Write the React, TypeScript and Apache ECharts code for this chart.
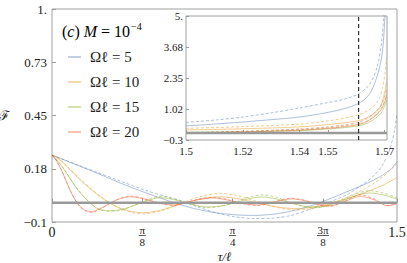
import React, { useEffect, useRef } from "react";
import * as echarts from "echarts";

// ---------- data ----------
const names = ["Ωℓ = 5", "Ωℓ = 10", "Ωℓ = 15", "Ωℓ = 20"];
const colors = [
  "rgba(94,129,181,0.5)",
  "rgba(225,156,36,0.5)",
  "rgba(143,176,50,0.5)",
  "rgba(235,98,53,0.5)",
];

const blueSolid: number[][] = [[0,0.246],[0.1,0.198],[0.2,0.15],[0.3,0.1],[0.4,0.054],[0.5,0.012],[0.6,-0.025],[0.7,-0.05],[0.8,-0.063],[0.88,-0.066],[0.96,-0.06],[1.04,-0.044],[1.12,-0.018],[1.2,0.016],[1.28,0.055],[1.36,0.095],[1.42,0.13],[1.47,0.17],[1.5,0.21]];
const blueDashed: number[][] = [[0,0.246],[0.1,0.2],[0.2,0.155],[0.3,0.11],[0.4,0.066],[0.5,0.03],[0.56,0.01],[0.64,-0.025],[0.72,-0.055],[0.8,-0.074],[0.88,-0.082],[0.96,-0.08],[1.04,-0.066],[1.12,-0.035],[1.2,0.0],[1.28,0.04],[1.34,0.085],[1.4,0.14],[1.44,0.2],[1.47,0.28],[1.49,0.38],[1.5,0.46]];
const orangeSolid: number[][] = [[0,0.246],[0.035,0.22],[0.07,0.18],[0.12,0.12],[0.16,0.078],[0.21,0.03],[0.26,-0.008],[0.3,-0.03],[0.35,-0.047],[0.4,-0.052],[0.45,-0.045],[0.5,-0.03],[0.55,-0.01],[0.6,0.006],[0.66,0.022],[0.73,0.03],[0.8,0.022],[0.87,0.004],[0.94,-0.014],[1.0,-0.026],[1.06,-0.031],[1.13,-0.024],[1.2,-0.006],[1.27,0.016],[1.35,0.048],[1.43,0.085],[1.5,0.13]];
const orangeDashed: number[][] = [[0,0.246],[0.035,0.222],[0.07,0.183],[0.12,0.125],[0.16,0.083],[0.21,0.033],[0.26,-0.008],[0.3,-0.032],[0.35,-0.052],[0.4,-0.058],[0.45,-0.05],[0.5,-0.032],[0.55,-0.008],[0.6,0.014],[0.66,0.036],[0.73,0.048],[0.8,0.038],[0.87,0.014],[0.94,-0.012],[1.0,-0.03],[1.06,-0.038],[1.13,-0.032],[1.2,-0.01],[1.27,0.022],[1.35,0.066],[1.43,0.125],[1.5,0.2]];
const greenSolid: number[][] = [[0,0.246],[0.035,0.2],[0.07,0.14],[0.1,0.085],[0.13,0.04],[0.16,0.005],[0.2,-0.032],[0.25,-0.042],[0.3,-0.036],[0.35,-0.018],[0.4,0.005],[0.47,0.026],[0.53,0.015],[0.6,-0.006],[0.67,-0.022],[0.73,-0.018],[0.8,0.0],[0.86,0.022],[0.92,0.029],[0.98,0.018],[1.05,-0.005],[1.12,-0.022],[1.18,-0.02],[1.25,0.004],[1.32,0.035],[1.38,0.05],[1.44,0.04],[1.5,0.018]];
const greenDashed: number[][] = [[0,0.246],[0.035,0.201],[0.07,0.142],[0.1,0.088],[0.13,0.043],[0.16,0.006],[0.2,-0.033],[0.25,-0.045],[0.3,-0.039],[0.35,-0.018],[0.4,0.008],[0.47,0.032],[0.53,0.02],[0.6,-0.006],[0.67,-0.026],[0.73,-0.02],[0.8,0.004],[0.86,0.03],[0.92,0.04],[0.98,0.026],[1.05,-0.004],[1.12,-0.026],[1.18,-0.022],[1.25,0.008],[1.32,0.045],[1.38,0.062],[1.44,0.05],[1.5,0.025]];
const redSolid: number[][] = [[0,0.246],[0.02,0.215],[0.04,0.17],[0.06,0.115],[0.08,0.06],[0.1,0.015],[0.12,-0.018],[0.145,-0.04],[0.175,-0.047],[0.21,-0.03],[0.25,-0.005],[0.29,0.018],[0.34,0.03],[0.39,0.022],[0.44,0.006],[0.49,-0.008],[0.53,-0.012],[0.58,0.0],[0.64,0.016],[0.7,0.024],[0.76,0.014],[0.81,0.0],[0.85,-0.008],[0.89,-0.012],[0.94,-0.004],[0.99,0.01],[1.04,0.019],[1.1,0.01],[1.16,-0.01],[1.21,-0.016],[1.27,0.005],[1.34,0.032],[1.4,0.015],[1.46,-0.016],[1.5,-0.006]];
const redDashed: number[][] = [[0,0.246],[0.02,0.216],[0.04,0.171],[0.06,0.117],[0.08,0.062],[0.1,0.016],[0.12,-0.019],[0.145,-0.042],[0.175,-0.05],[0.21,-0.033],[0.25,-0.006],[0.29,0.02],[0.34,0.034],[0.39,0.025],[0.44,0.006],[0.49,-0.01],[0.53,-0.015],[0.58,-0.001],[0.64,0.019],[0.7,0.028],[0.76,0.017],[0.81,0.0],[0.85,-0.01],[0.89,-0.015],[0.94,-0.006],[0.99,0.012],[1.04,0.023],[1.1,0.012],[1.16,-0.012],[1.21,-0.019],[1.27,0.006],[1.34,0.04],[1.4,0.02],[1.46,-0.016],[1.5,-0.002]];

const insetBlueSolid: number[][] = [[1.5,0.3],[1.51,0.38],[1.52,0.47],[1.53,0.57],[1.54,0.68],[1.55,0.88],[1.556,1.05],[1.5605,1.25],[1.5635,1.5],[1.5655,1.85],[1.5675,2.5],[1.569,3.3],[1.5698,4.4],[1.5702,5.3]];
const insetBlueDashed: number[][] = [[1.5,0.45],[1.51,0.55],[1.52,0.68],[1.53,0.86],[1.54,1.07],[1.55,1.3],[1.556,1.45],[1.5605,1.65],[1.5635,1.92],[1.5655,2.25],[1.5675,2.9],[1.569,4.0],[1.5697,5.2]];
const insetOrangeSolid: number[][] = [[1.5,0.13],[1.52,0.18],[1.54,0.26],[1.55,0.36],[1.556,0.44],[1.5605,0.52],[1.5635,0.64],[1.5658,0.8],[1.568,1.05],[1.569,1.3],[1.5701,1.8],[1.5706,2.2]];
const insetOrangeDashed: number[][] = [[1.5,0.2],[1.52,0.27],[1.54,0.38],[1.55,0.52],[1.556,0.64],[1.5605,0.77],[1.5635,0.92],[1.5658,1.11],[1.568,1.45],[1.569,1.84],[1.5701,2.56],[1.5706,3.2]];
const insetGreenSolid: number[][] = [[1.5,0.02],[1.52,0.05],[1.54,0.1],[1.55,0.17],[1.556,0.23],[1.5605,0.3],[1.5635,0.4],[1.5658,0.55],[1.568,0.75],[1.569,0.9],[1.5701,1.2],[1.5706,1.4]];
const insetGreenDashed: number[][] = [[1.5,0.03],[1.52,0.07],[1.54,0.14],[1.55,0.22],[1.556,0.3],[1.5605,0.38],[1.5635,0.5],[1.5658,0.68],[1.568,0.92],[1.569,1.1],[1.5701,1.45],[1.5706,1.7]];
const insetRedSolid: number[][] = [[1.5,-0.01],[1.52,0.04],[1.54,0.12],[1.55,0.2],[1.556,0.27],[1.5605,0.35],[1.5635,0.47],[1.5658,0.65],[1.568,0.88],[1.569,1.05],[1.5701,1.35],[1.5706,1.6]];
const insetRedDashed: number[][] = [[1.5,0.0],[1.52,0.07],[1.54,0.17],[1.55,0.26],[1.556,0.35],[1.5605,0.45],[1.5635,0.6],[1.5658,0.8],[1.568,1.05],[1.569,1.25],[1.5701,1.6],[1.5706,1.9]];

const mainXTicks = [0, Math.PI / 8, Math.PI / 4, (3 * Math.PI) / 8, 1.5];
const mainXLabels = ["{v|0}", "{n|π}\n{b|}\n{d|8}", "{n|π}\n{b|}\n{d|4}", "{n|3π}\n{c|}\n{d|8}", "{v|1.5}"];
const mainYTicks = [-0.1, 0.175, 0.45, 0.725, 1];
const mainYLabels = ["−0.1", "0.18", "0.45", "0.73", "1."];
const insetXTicks = [1.5, 1.52, 1.54, 1.55, 1.57];
const insetXLabels = ["1.5", "1.52", "1.54", "1.55", "1.57"];
const insetYTicks = [-0.3, 1.025, 2.35, 3.675, 5];
const insetYLabels = ["−0.3", "1.02", "2.35", "3.68", "5."];
const insetXMax = Math.PI / 2;
const cutoffTau = Math.PI / 2 - 0.01;

const FONT = "Liberation Serif";

function nearestLabel(v: number, ticks: number[], labels: string[]) {
  let best = 0;
  for (let i = 1; i < ticks.length; i++) {
    if (Math.abs(ticks[i] - v) < Math.abs(ticks[best] - v)) best = i;
  }
  return labels[best];
}

function mk(name: string, data: number[][], color: string, dashed: boolean, idx: number, z: number) {
  return {
    type: "line",
    name,
    data,
    xAxisIndex: idx,
    yAxisIndex: idx,
    symbol: "none",
    showSymbol: false,
    smooth: 0.3,
    silent: true,
    z,
    itemStyle: { color },
    lineStyle: { color, width: 1, type: dashed ? [3, 2] : "solid" },
  };
}

export default function App() {
  const ref = useRef<HTMLDivElement>(null);
  useEffect(() => {
    if (!ref.current) return;
    const chart = echarts.init(ref.current, null, { renderer: "svg" });
    const mainSolid = [blueSolid, orangeSolid, greenSolid, redSolid];
    const mainDashed = [blueDashed, orangeDashed, greenDashed, redDashed];
    const inSolid = [insetBlueSolid, insetOrangeSolid, insetGreenSolid, insetRedSolid];
    const inDashed = [insetBlueDashed, insetOrangeDashed, insetGreenDashed, insetRedDashed];
    const series: any[] = [];
    names.forEach((n, i) => {
      series.push(mk(n, mainSolid[i], colors[i], false, 0, 2));
      series.push(mk(n + " ", mainDashed[i], colors[i], true, 0, 2));
    });
    series.push({
      type: "line", data: [[0, 0], [1.5, 0]], xAxisIndex: 0, yAxisIndex: 0,
      symbol: "none", silent: true, z: 3, lineStyle: { color: "#999", width: 2.5 },
    });
    names.forEach((n, i) => {
      series.push(mk("in" + n, inSolid[i], colors[i], false, 1, 11));
      series.push(mk("in" + n + " ", inDashed[i], colors[i], true, 1, 11));
    });
    series.push({
      type: "line", data: [[1.5, 0], [insetXMax, 0]], xAxisIndex: 1, yAxisIndex: 1,
      symbol: "none", silent: true, z: 12, lineStyle: { color: "#999", width: 2.5 },
    });
    series.push({
      type: "line", data: [[cutoffTau, -0.3], [cutoffTau, 5]], xAxisIndex: 1, yAxisIndex: 1,
      symbol: "none", silent: true, z: 13, lineStyle: { color: "#333", width: 1.2, type: [4, 3] },
    });

    const fracRich = {
      v: { fontSize: 14, fontFamily: FONT, color: "#222" },
      n: { fontSize: 11, lineHeight: 9, fontFamily: FONT, color: "#222", align: "center" },
      d: { fontSize: 11, lineHeight: 9, fontFamily: FONT, color: "#222", align: "center" },
      b: { width: 7, height: 0.8, lineHeight: 3, backgroundColor: "#333", align: "center" },
      c: { width: 12, height: 0.8, lineHeight: 3, backgroundColor: "#333", align: "center" },
    };

    const legendEls: any[] = [];
    names.forEach((n, i) => {
      const y = 57 + i * 25;
      legendEls.push({
        type: "line", z: 20, silent: true,
        shape: { x1: 68, y1: y, x2: 81, y2: y },
        style: { stroke: colors[i], lineWidth: 1.5 },
      });
      legendEls.push({
        type: "text", z: 20, silent: true, x: 90, y,
        style: { text: n, fontFamily: FONT, fontSize: 15, fill: "#222", verticalAlign: "middle", align: "left" },
      });
    });

    chart.setOption({
      animation: false,
      backgroundColor: "#fff",
      textStyle: { fontFamily: FONT },
      grid: [
        { left: 52, top: 9, width: 345, height: 213, show: true, borderColor: "#a0a0a0", borderWidth: 1, backgroundColor: "transparent", containLabel: false, outerBoundsMode: "none" },
        { left: 186, top: 16, width: 201, height: 124, show: true, borderColor: "#a0a0a0", borderWidth: 1, backgroundColor: "transparent", z: 10, containLabel: false, outerBoundsMode: "none" },
      ],
      xAxis: [
        {
          type: "value", gridIndex: 0, min: 0, max: 1.5,
          axisLine: { show: false }, splitLine: { show: false },
          axisTick: { inside: true, length: 4, customValues: mainXTicks, lineStyle: { color: "#999" } },
          axisLabel: {
            customValues: mainXTicks, margin: 3, color: "#222", fontFamily: FONT, fontSize: 14,
            formatter: (v: number) => nearestLabel(v, mainXTicks, mainXLabels),
            rich: fracRich,
          },
          name: "τ/ℓ", nameLocation: "middle", nameGap: 28, nameMoveOverlap: false,
          nameTextStyle: { fontFamily: FONT, fontStyle: "italic", fontSize: 13, color: "#222" },
        },
        {
          type: "value", gridIndex: 1, min: 1.5, max: insetXMax, z: 10,
          axisLine: { show: false }, splitLine: { show: false },
          axisTick: { inside: true, length: 3, customValues: insetXTicks, lineStyle: { color: "#999" } },
          axisLabel: {
            customValues: insetXTicks, margin: 5, color: "#222", fontFamily: FONT, fontSize: 11,
            formatter: (v: number) => nearestLabel(v, insetXTicks, insetXLabels),
          },
        },
      ],
      yAxis: [
        {
          type: "value", gridIndex: 0, min: -0.1, max: 1,
          axisLine: { show: false }, splitLine: { show: false },
          axisTick: { inside: true, length: 4, customValues: mainYTicks, lineStyle: { color: "#999" } },
          axisLabel: {
            customValues: mainYTicks, margin: 5, color: "#222", fontFamily: FONT, fontSize: 13,
            formatter: (v: number) => nearestLabel(v, mainYTicks, mainYLabels),
          },
          name: "ℱ", nameLocation: "middle", nameGap: 42, nameRotate: 0, nameMoveOverlap: false,
          nameTextStyle: { fontFamily: "DejaVu Serif", fontSize: 13, color: "#222" },
        },
        {
          type: "value", gridIndex: 1, min: -0.3, max: 5, z: 10,
          axisLine: { show: false }, splitLine: { show: false },
          axisTick: { inside: true, length: 3, customValues: insetYTicks, lineStyle: { color: "#999" } },
          axisLabel: {
            customValues: insetYTicks, margin: 3, color: "#222", fontFamily: FONT, fontSize: 11,
            formatter: (v: number) => nearestLabel(v, insetYTicks, insetYLabels),
          },
        },
      ],
      graphic: [
        { type: "rect", z: 5, shape: { x: 150, y: 12, width: 238, height: 147 }, style: { fill: "#fff" }, silent: true },
        {
          type: "text", left: 62, top: 21, z: 20,
          style: {
            text: "{t|(}{i|c}{t|) }{i|M}{t| = 10}{s|−4}",
            rich: {
              t: { fontFamily: FONT, fontSize: 16, color: "#222", lineHeight: 20 },
              i: { fontFamily: FONT, fontSize: 16, fontStyle: "italic", color: "#222", lineHeight: 20 },
              s: { fontFamily: FONT, fontSize: 10, color: "#222", verticalAlign: "top", lineHeight: 20, padding: [0, 0, 8, 1] },
            },
          },
        },
        ...legendEls,
      ],
      series,
    });
    return () => chart.dispose();
  }, []);
  return <div ref={ref} style={{ position: "absolute", left: 0, top: 0, width: 407, height: 263 }} />;
}
